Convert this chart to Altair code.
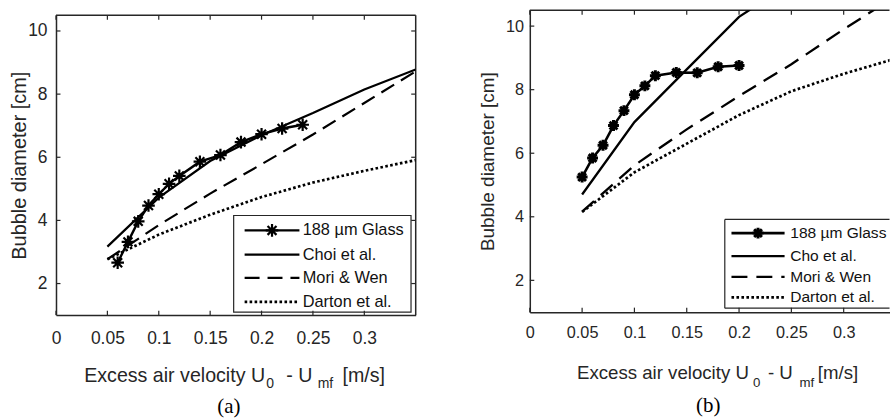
import altair as alt
import pandas as pd

# ---------------- panel (a) ----------------
a_glass_u = [0.06, 0.07, 0.08, 0.09, 0.10, 0.11, 0.12, 0.14, 0.16, 0.18, 0.20, 0.22, 0.24]
a_glass_d = [2.66, 3.32, 3.97, 4.47, 4.83, 5.16, 5.41, 5.86, 6.07, 6.48, 6.73, 6.91, 7.03]
a_corr_u = [0.05, 0.10, 0.15, 0.20, 0.25, 0.30, 0.35]
a_choi_d = [3.17, 4.72, 5.88, 6.70, 7.40, 8.15, 8.78]
a_mori_d = [2.77, 3.85, 4.85, 5.78, 6.72, 7.72, 8.72]
a_darton_d = [2.77, 3.55, 4.18, 4.74, 5.20, 5.57, 5.91]

# ---------------- panel (b) ----------------
b_glass_u = [0.05, 0.06, 0.07, 0.08, 0.09, 0.10, 0.11, 0.12, 0.14, 0.16, 0.18, 0.20]
b_glass_d = [5.25, 5.85, 6.25, 6.87, 7.34, 7.84, 8.12, 8.44, 8.54, 8.53, 8.72, 8.76]
b_cho_u = [0.05, 0.10, 0.15, 0.20, 0.25]
b_cho_d = [4.70, 6.98, 8.64, 10.29, 11.37]
b_corr_u = [0.05, 0.10, 0.15, 0.20, 0.25, 0.30, 0.35]
b_mori_d = [4.16, 5.62, 6.75, 7.80, 8.80, 9.90, 10.95]
b_darton_d = [4.15, 5.40, 6.30, 7.20, 7.95, 8.50, 8.98]

x_ticks = [0, 0.05, 0.1, 0.15, 0.2, 0.25, 0.3]
y_ticks = [2, 4, 6, 8, 10]
legend_a = ["188 µm Glass", "Choi et al.", "Mori & Wen", "Darton et al."]
legend_b = ["188 µm Glass", "Cho et al.", "Mori & Wen", "Darton et al."]

INK = "#262626"
SANS = "Liberation Sans"
SERIF = "Liberation Serif"
FRAME = 1.5
TICK = 4.5
ASTERISK = "M-1,0L1,0M0,-1L0,1M-0.71,-0.71L0.71,0.71M-0.71,0.71L0.71,-0.71"
DOT = [2.6, 2.4]


def series(u, d):
    return pd.DataFrame({"u": u, "d": d})


def one():
    return pd.DataFrame({"k": [0]})


def panel(p):
    W, H = p["w"], p["h"]
    dash = p["dash"]
    xs = alt.Scale(domain=p["xdom"], nice=False, zero=False)
    ys = alt.Scale(domain=[1, 10.5], nice=False, zero=False)
    x_enc = alt.X(
        "u:Q", scale=xs,
        axis=alt.Axis(values=x_ticks, format="~g", title=None, ticks=False, grid=False,
                      domainColor=INK, domainWidth=FRAME, labelFont=SANS,
                      labelFontSize=p["tick_fs"], labelColor=INK,
                      labelPadding=p["xlab_pad"], labelFlush=False, labelOverlap=False))
    y_enc = alt.Y(
        "d:Q", scale=ys,
        axis=alt.Axis(values=y_ticks, title="Bubble diameter [cm]", titleFont=SANS,
                      titleFontSize=p["title_fs"], titleFontWeight="normal", titleColor=INK,
                      titlePadding=p["ytitle_pad"], ticks=False, grid=False,
                      domainColor=INK, domainWidth=FRAME, labelFont=SANS,
                      labelFontSize=p["tick_fs"], labelColor=INK,
                      labelPadding=p["ylab_pad"]))

    layers = []
    # box frame (left and bottom come from the axis domains)
    layers.append(alt.Chart(one()).mark_rule(color=INK, strokeWidth=FRAME).encode(
        x=alt.value(0), x2=alt.value(W), y=alt.value(0)))
    if p["right_edge"]:
        layers.append(alt.Chart(one()).mark_rule(color=INK, strokeWidth=FRAME).encode(
            x=alt.value(W), y=alt.value(0), y2=alt.value(H)))

    styles = [None, None, dash, DOT]

    def line_kw(style):
        kw = dict(color="black", strokeWidth=p["line_w"], strokeCap="butt")
        if style:
            kw["strokeDash"] = style
        if style == DOT:
            kw["strokeWidth"] = 2.7
        return kw

    # correlations
    for u, d, style in p["curves"]:
        layers.append(alt.Chart(series(u, d)).mark_line(clip=True, **line_kw(style)).encode(
            x=x_enc, y=y_enc))

    # measured bubble diameters
    gu, gd = p["glass"]
    layers.append(alt.Chart(series(gu, gd)).mark_line(
        color="black", strokeWidth=p["glass_w"], clip=True).encode(x=x_enc, y=y_enc))
    layers.append(alt.Chart(series(gu, gd)).mark_point(
        shape=ASTERISK, filled=False, stroke="black", strokeWidth=p["star_w"],
        size=p["star_size"], opacity=1, clip=True).encode(x=x_enc, y=y_enc))

    # legend
    lg = p["legend"]
    bx0, by0, by1 = lg["box"]
    if p["right_edge"]:
        layers.append(alt.Chart(one()).mark_rect(fill="white", stroke=INK, strokeWidth=1.2).encode(
            x=alt.value(bx0), x2=alt.value(lg["box_r"]), y=alt.value(by0), y2=alt.value(by1)))
    else:
        layers.append(alt.Chart(one()).mark_rect(fill="white").encode(
            x=alt.value(bx0), x2=alt.value(W), y=alt.value(by0), y2=alt.value(by1)))
        for enc in (dict(x=alt.value(bx0), x2=alt.value(W), y=alt.value(by0)),
                    dict(x=alt.value(bx0), x2=alt.value(W), y=alt.value(by1)),
                    dict(x=alt.value(bx0), y=alt.value(by0), y2=alt.value(by1))):
            layers.append(alt.Chart(one()).mark_rule(color=INK, strokeWidth=1.2).encode(**enc))
    lx0, lx1 = lg["line"]
    for i, (label, ry) in enumerate(zip(lg["labels"], lg["rows"])):
        kw = line_kw(styles[i])
        if i == 0:
            kw["strokeWidth"] = p["glass_w"]
        layers.append(alt.Chart(one()).mark_rule(**kw).encode(
            x=alt.value(lx0), x2=alt.value(lx1), y=alt.value(ry)))
        if i == 0:
            layers.append(alt.Chart(one()).mark_point(
                shape=ASTERISK, filled=False, stroke="black", strokeWidth=p["star_w"],
                size=p["star_size"], opacity=1).encode(
                x=alt.value((lx0 + lx1) / 2), y=alt.value(ry)))
        layers.append(alt.Chart(one()).mark_text(
            align="left", baseline="middle", font=SANS, fontSize=lg["fs"], color="#111111").encode(
            x=alt.value(lg["text_x"]), y=alt.value(ry), text=alt.value(label)))

    # inward ticks on every drawn side
    xt = pd.DataFrame({"u": [t for t in x_ticks if t <= p["xdom"][1]]})
    yt = pd.DataFrame({"d": y_ticks})
    tick = dict(color=INK, strokeWidth=1.2)
    layers.append(alt.Chart(xt).mark_rule(**tick).encode(
        x=x_enc, y=alt.value(H), y2=alt.value(H - TICK)))
    layers.append(alt.Chart(xt).mark_rule(**tick).encode(
        x=x_enc, y=alt.value(0), y2=alt.value(TICK)))
    layers.append(alt.Chart(yt).mark_rule(**tick).encode(
        y=y_enc, x=alt.value(0), x2=alt.value(TICK)))
    if p["right_edge"]:
        layers.append(alt.Chart(yt).mark_rule(**tick).encode(
            y=y_enc, x=alt.value(W), x2=alt.value(W - TICK)))

    # x-axis title with subscripts, and the panel caption
    for text, tx, ty, fs in p["xtitle"]:
        layers.append(alt.Chart(one()).mark_text(
            align="left", baseline="alphabetic", font=SANS, fontSize=fs, color=INK).encode(
            x=alt.value(tx), y=alt.value(ty), text=alt.value(text)))
    cx, cy, ctext = p["caption"]
    layers.append(alt.Chart(one()).mark_text(
        align="center", baseline="alphabetic", font=SERIF, fontSize=21, color="black").encode(
        x=alt.value(cx), y=alt.value(cy), text=alt.value(ctext)))

    return alt.layer(*layers).properties(width=W, height=H)


left = panel(dict(
    w=361, h=301, xdom=[0, 0.35], right_edge=True, dash=[15, 8], line_w=2.2,
    tick_fs=17.5, title_fs=20, xlab_pad=14, ylab_pad=9, ytitle_pad=-2,
    curves=[(a_corr_u, a_darton_d, DOT), (a_corr_u, a_mori_d, [15, 8]), (a_corr_u, a_choi_d, None)],
    glass=(a_glass_u, a_glass_d), glass_w=2.4, star_w=2.2, star_size=160,
    legend=dict(box=(178.3, 201, 298), box_r=356.3, line=(189.3, 244.3),
                rows=[216, 240.3, 263.7, 287.7], text_x=247.6, fs=16.4, labels=legend_a),
    xtitle=[("Excess air velocity U", 28.3, 367.7, 19.7), ("0", 211, 374.3, 14),
            ("- U", 231, 367.7, 19.7), ("mf", 262.6, 374.3, 14), ("[m/s]", 287.6, 367.7, 19.7)],
    caption=(173.5, 399.3, "(a)"),
))

right = panel(dict(
    w=361, h=303, xdom=[0, 0.3438], right_edge=False, dash=[16, 9], line_w=2.3,
    tick_fs=16.3, title_fs=19, xlab_pad=12.8, ylab_pad=6.3, ytitle_pad=7.9,
    curves=[(b_corr_u, b_darton_d, DOT), (b_corr_u, b_mori_d, [16, 9]), (b_cho_u, b_cho_d, None)],
    glass=(b_glass_u, b_glass_d), glass_w=2.6, star_w=3, star_size=120,
    legend=dict(box=(195.7, 210, 299), box_r=361, line=(202.4, 255.7),
                rows=[223.7, 246.7, 267.7, 288.2], text_x=261.4, fs=15.6, labels=legend_b),
    xtitle=[("Excess air velocity U", 47.4, 370, 18.7), ("0", 224, 378.4, 13.3),
            ("- U", 239, 370, 18.7), ("mf", 270.7, 378.4, 13.3), ("[m/s]", 289, 370, 18.7)],
    caption=(179, 403.4, "(b)"),
))

# panel (a) sits a little lower than panel (b)
spacer = alt.Chart(one()).mark_rule(strokeOpacity=0).encode(
    x=alt.value(0), x2=alt.value(1), y=alt.value(0)).properties(width=361, height=1.7)

chart = alt.hconcat(
    alt.vconcat(spacer, left, spacing=0), right, spacing=60.5
).properties(
    padding={"left": 9.2, "top": 7.5, "right": 0, "bottom": 0},
    background="white",
).configure_view(stroke="transparent")

chart.save("out.html", embed_options={"renderer": "svg", "actions": False})
